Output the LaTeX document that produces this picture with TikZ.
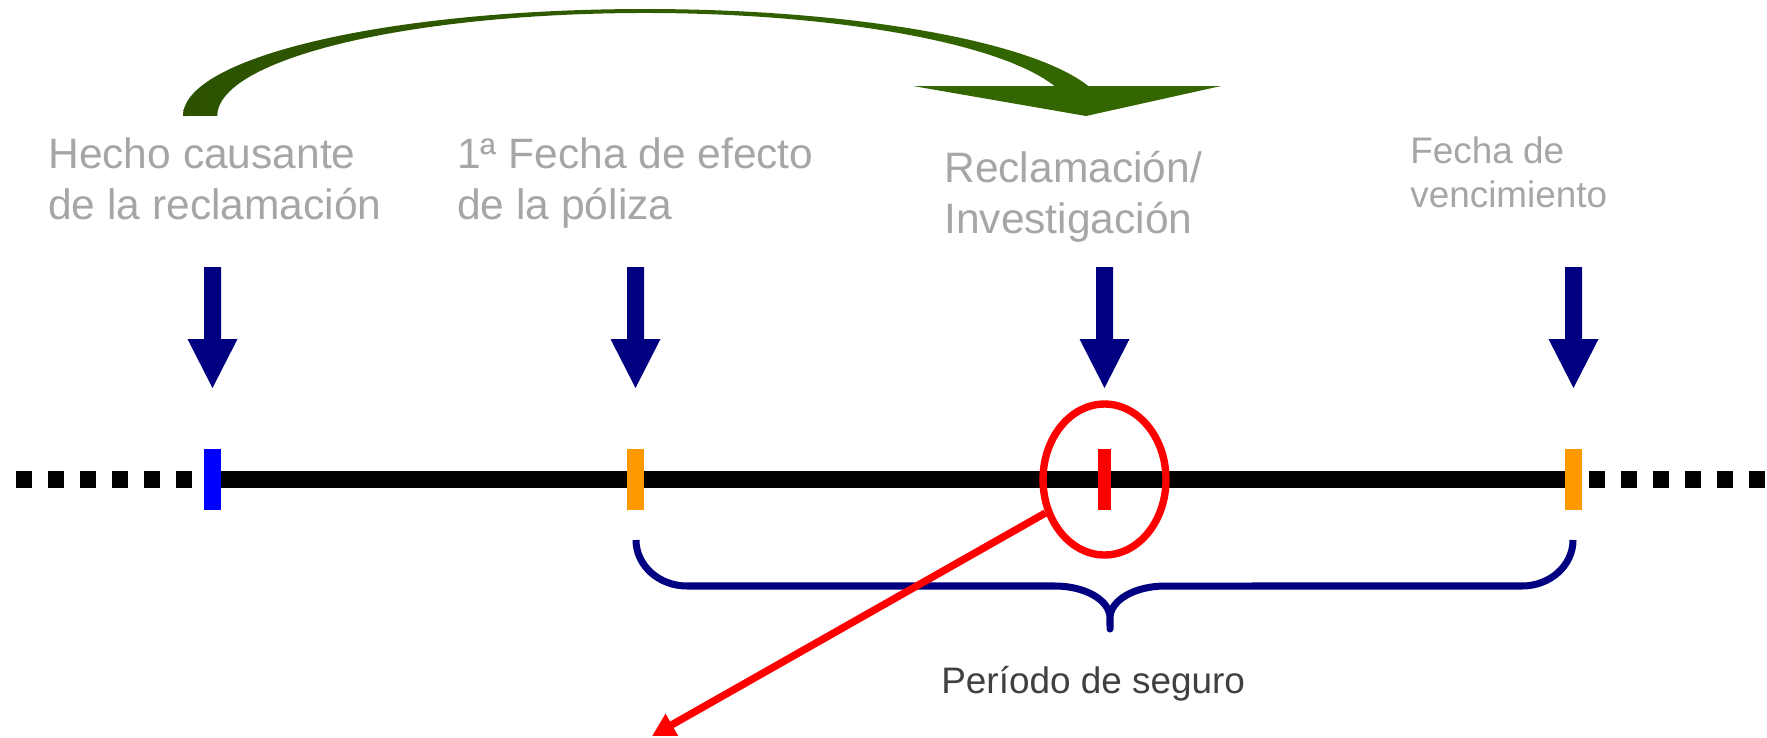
\documentclass[tikz,border=0pt]{standalone}
\usepackage{fontspec}
\setmainfont{Liberation Sans}
\usepackage{xcolor}
\usetikzlibrary{arrows.meta,shapes.geometric,positioning}

\definecolor{arcgreen}{RGB}{51,102,0}
\definecolor{arcdark}{RGB}{44,82,0}
\definecolor{labelgray}{RGB}{166,166,166}
\definecolor{textgray}{RGB}{64,64,64}
\definecolor{navyblue}{RGB}{0,0,128}
\definecolor{tickorange}{RGB}{255,153,0}

\begin{document}
\begin{tikzpicture}[x=0.02cm, y=-0.02cm,
    datelabel/.style={anchor=base west, inner sep=0pt, align=left, text=labelgray,
      font=\fontsize{24.2pt}{29pt}\selectfont},
    smalllabel/.style={datelabel, font=\fontsize{21pt}{24.5pt}\selectfont},
    timetick/.style={line width=9.7pt},
    blockarrow/.style={fill=navyblue}]
  \useasboundingbox (0,0) rectangle (1767,737);

  \coordinate (hecho) at (212.5,479.5);
  \coordinate (efecto) at (635.5,479.5);
  \coordinate (reclam) at (1104.5,479.5);
  \coordinate (venc) at (1573.5,479.5);
  \coordinate (arrowtip) at (652,736);

  % curved green arrow
  \shade[left color=arcdark, right color=arcgreen] (183,116)
      arc[start angle=180, end angle=16.3, x radius=9.24cm, y radius=2.14cm]
      -- (1054.5,86)
      arc[start angle=16.93, end angle=180, x radius=8.56cm, y radius=2.06cm] -- cycle;
  \fill[arcgreen] (913,86) -- (1221,86) -- (1086,116) -- cycle;

  % labels (base = last line)
  \node[datelabel] (hechotext) at (48,219) {Hecho causante\\de la reclamación};
  \node[datelabel] (efectotext) at (457,219) {1ª Fecha de efecto\\de la póliza};
  \node[datelabel] (reclamtext) at (944,233) {Reclamación/\\Investigación};
  \node[smalllabel] (venctext) at (1410,207) {Fecha de\\vencimiento};

  \foreach \t in {hecho,efecto,reclam,venc}
    \fill[blockarrow, shift={(\t)}] (-8.5,-212.5) -- (8.5,-212.5) -- (8.5,-140.5)
        -- (25,-140.5) -- (0,-91.5) -- (-25,-140.5) -- (-8.5,-140.5) -- cycle;

  % time line
  \draw[line width=9.2pt, dash pattern=on 9.1pt off 9.1pt] (16,479.5) -- (192,479.5);
  \draw[line width=9.2pt, dash pattern=on 9.1pt off 9.1pt] (1589,479.5) -- (1765,479.5);
  \draw[line width=9.7pt] (hecho) -- (venc);

  \draw[timetick, blue, shift={(hecho)}] (0,-30.5) -- (0,30.5);
  \draw[timetick, tickorange, shift={(efecto)}] (0,-30.5) -- (0,30.5);
  \draw[timetick, red, line width=7.4pt, shift={(reclam)}] (0,-30.5) -- (0,30.5);
  \draw[timetick, tickorange, shift={(venc)}] (0,-30.5) -- (0,30.5);

  \node[draw=red, line width=4.2pt, ellipse, minimum width=2.46cm, minimum height=3.02cm,
        inner sep=0pt] (claimring) at (reclam) {};

  % brace
  \draw[navyblue, line width=4pt, line join=round] (636,540)
      arc[start angle=180, end angle=270, x radius=1.02cm, y radius=0.92cm] -- (1055,586)
      arc[start angle=90, end angle=0, x radius=1.1cm, y radius=0.64cm] -- (1110,629)
      -- (1110,618)
      arc[start angle=180, end angle=90, x radius=1.1cm, y radius=0.64cm] -- (1522,586)
      arc[start angle=270, end angle=360, x radius=1.02cm, y radius=0.92cm];
  \node[anchor=base west, inner sep=0pt, text=textgray, font=\fontsize{21pt}{24.5pt}\selectfont]
      (periodo) at (941,693) {Período de seguro};

  \draw[red, line width=4.2pt, -{Triangle[length=13pt, width=13.6pt]}] (claimring) -- (arrowtip);
\end{tikzpicture}
\end{document}
